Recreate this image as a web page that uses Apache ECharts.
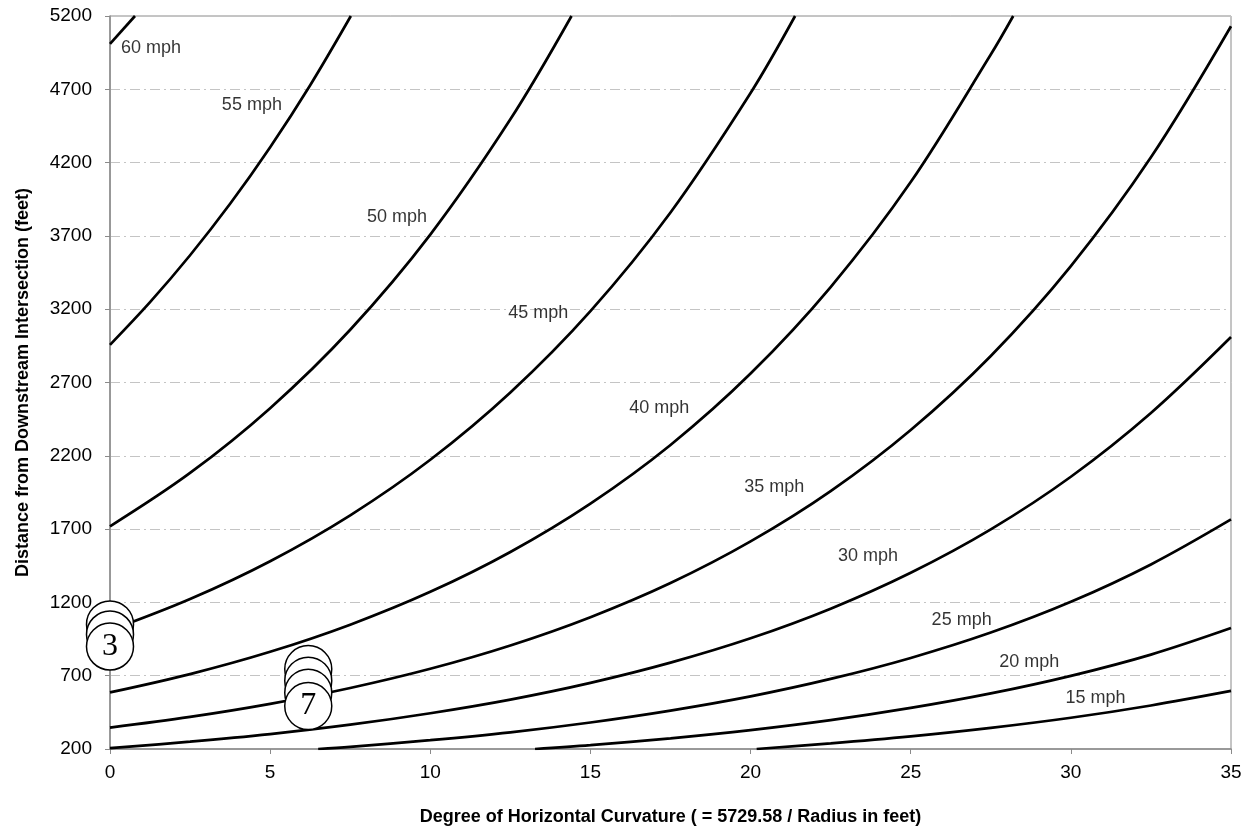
<!DOCTYPE html>
<html><head><meta charset="utf-8">
<script src="https://cdn.jsdelivr.net/npm/echarts@6/dist/echarts.min.js"></script>
<style>html,body{margin:0;padding:0;background:#fff}#c{width:1258px;height:834px}</style>
</head><body><div id="c"></div>
<script>
// ---- data ----
const xTicks = [0, 5, 10, 15, 20, 25, 30, 35];
const yTicks = [200, 700, 1200, 1700, 2200, 2700, 3200, 3700, 4200, 4700, 5200];

const curve60 = [[0,5010],[0.78,5200]];
const curve55 = [[0,2957],[1.25,3248],[2.5,3568],[3.75,3919],[5,4305],[6.25,4728],[7.52,5200]];
const curve50 = [[0,1719],[2.5,2083],[5,2525],[7.5,3060],[10,3709],[12.5,4495],[14.41,5200]];
const curve45 = [[0,1010],[2.5,1223],[5,1481],[7.5,1794],[10,2173],[12.5,2632],[15,3187],[17.5,3860],[20,4675],[21.39,5200]];
const curve40 = [[0,586],[2.5,711],[5,863],[7.5,1048],[10,1272],[12.5,1544],[15,1874],[17.5,2274],[20,2761],[22.5,3351],[25,4067],[27.5,4937],[28.2,5200]];
const curve35 = [[0,346],[2.5,419],[5,508],[7.5,616],[10,747],[12.5,906],[15,1099],[17.5,1332],[20,1616],[22.5,1959],[25,2376],[27.5,2881],[30,3494],[32.5,4236],[35,5130]];
const curve30 = [[0,206],[2.5,250],[5,302],[7.5,366],[10,444],[12.5,537],[15,651],[17.5,789],[20,955],[22.5,1157],[25,1402],[27.5,1698],[30,2057],[32.5,2492],[35,3010]];
const curve25 = [[6.5,200],[7.5,214],[10,260],[12.5,314],[15,381],[17.5,462],[20,559],[22.5,678],[25,821],[27.5,994],[30,1204],[32.5,1459],[35,1766]];
const curve20 = [[13.27,200],[15,226],[17.5,273],[20,329],[22.5,397],[25,480],[27.5,579],[30,699],[32.5,844],[35,1025]];
const curve15 = [[20.19,200],[22.5,238],[25,286],[27.5,344],[30,413],[32.5,497],[35,596]];

const curveNames = ['60 mph','55 mph','50 mph','45 mph','40 mph','35 mph','30 mph','25 mph','20 mph','15 mph'];
const curves = [curve60, curve55, curve50, curve45, curve40, curve35, curve30, curve25, curve20, curve15];

// curve labels
const labelText = ['60 mph','55 mph','50 mph','45 mph','40 mph','35 mph','30 mph','25 mph','20 mph','15 mph'];
const labelX = [1.28, 4.43, 8.96, 13.37, 17.15, 20.74, 23.67, 26.59, 28.70, 30.77];
const labelY = [4980, 4592, 3831, 3173, 2526, 1986, 1513, 1083, 791, 550];

// numbered site markers (stacked circles)
const site3X = 0;
const site3Y = [1050, 981, 899];
const site7X = 6.19;
const site7Y = [745, 666, 584, 493];

const xTitle = 'Degree of Horizontal Curvature ( = 5729.58 / Radius in feet)';
const yTitle = 'Distance from Downstream Intersection (feet)';

// ---- chart ----
const chart = echarts.init(document.getElementById('c'), null, {renderer: 'canvas'});
const font = 'Liberation Sans, Arial, sans-serif';

const series = curves.map((c, i) => ({
  name: curveNames[i],
  type: 'line',
  data: c,
  smooth: 0.35,
  showSymbol: false,
  clip: true,
  lineStyle: {color: '#000', width: 2.7},
  z: 3,
  silent: true
}));

series.push({
  type: 'scatter',
  data: labelX.map((x, i) => [x, labelY[i], labelText[i]]),
  symbolSize: 0,
  itemStyle: {color: 'transparent'},
  label: {show: true, position: 'inside', formatter: p => p.value[2],
    fontFamily: font, fontSize: 18, color: '#000'},
  z: 4, silent: true
});

function siteSeries(x, ys, num) {
  return {
    type: 'scatter',
    data: ys.map((y, i) => ({value: [x, y], label: {show: i === ys.length - 1}})),
    symbol: 'circle',
    symbolSize: 47,
    itemStyle: {color: '#fff', borderColor: '#000', borderWidth: 1.5, opacity: 1},
    label: {show: false, position: 'inside', formatter: String(num),
      fontFamily: 'Liberation Serif, Times New Roman, serif', fontSize: 32, color: '#000'},
    clip: false,
    z: 6, silent: true
  };
}
series.push(siteSeries(site3X, site3Y, 3));
series.push(siteSeries(site7X, site7Y, 7));

chart.setOption({
  animation: false,
  backgroundColor: '#fff',
  grid: {left: 110, right: 27, top: 16, bottom: 85, show: true, borderColor: '#8a8a8a', borderWidth: 1},
  xAxis: {
    type: 'value', min: xTicks[0], max: xTicks[xTicks.length - 1], interval: 5,
    name: xTitle, nameLocation: 'middle', nameGap: 59,
    nameTextStyle: {fontFamily: font, fontSize: 18, fontWeight: 'bold', color: '#000'},
    axisLine: {show: true, lineStyle: {color: '#8a8a8a', width: 1.5}},
    axisTick: {show: true, length: 5, inside: false, lineStyle: {color: '#8a8a8a'}},
    axisLabel: {margin: 14, fontFamily: font, fontSize: 19, color: '#000', formatter: v => String(v)},
    splitLine: {show: false}
  },
  yAxis: {
    type: 'value', min: yTicks[0], max: yTicks[yTicks.length - 1], interval: 500,
    name: yTitle, nameLocation: 'middle', nameGap: 78,
    nameTextStyle: {fontFamily: font, fontSize: 18, fontWeight: 'bold', color: '#000'},
    axisLine: {show: true, lineStyle: {color: '#8a8a8a', width: 1.5}},
    axisTick: {show: true, length: 5, inside: false, lineStyle: {color: '#8a8a8a'}},
    axisLabel: {margin: 18, fontFamily: font, fontSize: 19, color: '#000', formatter: v => String(v)},
    splitLine: {show: true, lineStyle: {color: '#c4c4c4', width: 1, type: [10, 4, 2, 4]}}
  },
  series: series
});
</script>
</body></html>
